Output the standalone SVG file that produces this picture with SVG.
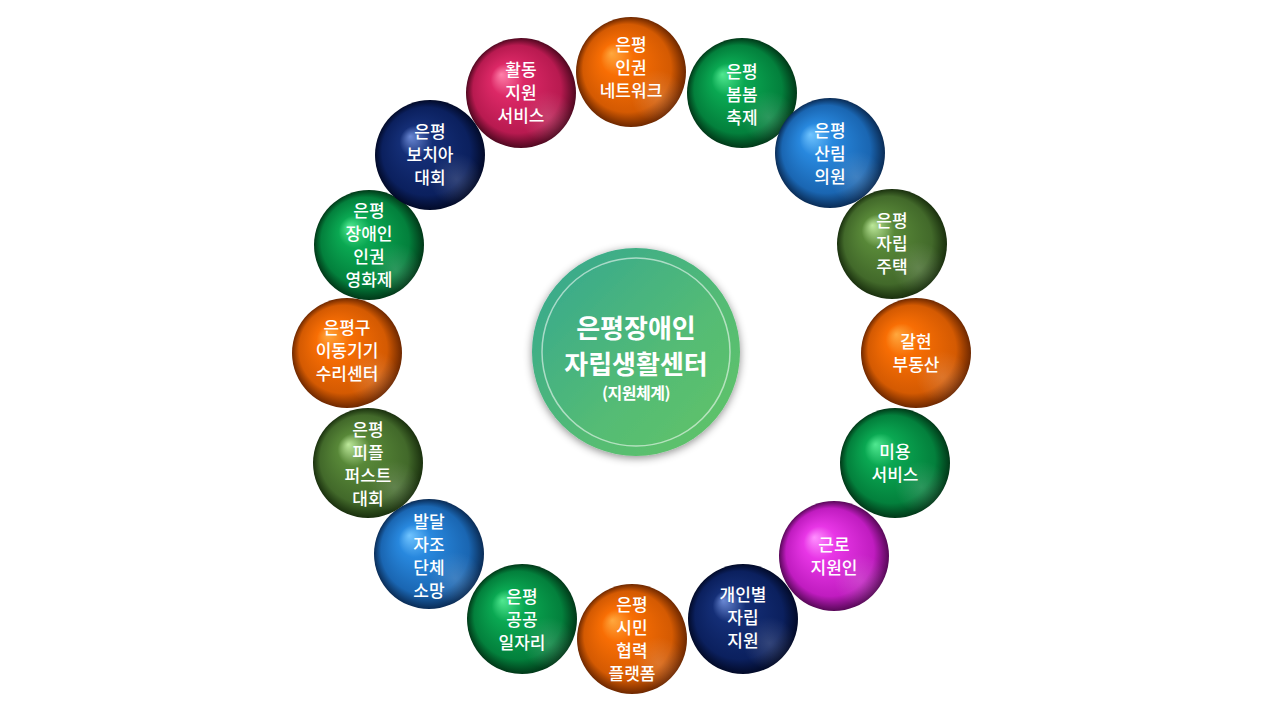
<svg xmlns="http://www.w3.org/2000/svg" width="1280" height="720" viewBox="0 0 1280 720">
<defs>
<radialGradient id="gOrange" cx="0.5" cy="0.5" r="0.5" fx="0.32" fy="0.33"><stop offset="0" stop-color="#ffa83e"/><stop offset="0.3" stop-color="#f86e04"/><stop offset="0.8" stop-color="#d45a02"/><stop offset="1" stop-color="#6e2800"/></radialGradient>
<radialGradient id="gGreen" cx="0.5" cy="0.5" r="0.5" fx="0.32" fy="0.33"><stop offset="0" stop-color="#50e890"/><stop offset="0.3" stop-color="#0aa852"/><stop offset="0.8" stop-color="#03803c"/><stop offset="1" stop-color="#013818"/></radialGradient>
<radialGradient id="gBlue" cx="0.5" cy="0.5" r="0.5" fx="0.32" fy="0.33"><stop offset="0" stop-color="#70c4ff"/><stop offset="0.3" stop-color="#2888de"/><stop offset="0.8" stop-color="#1a66b2"/><stop offset="1" stop-color="#0a2c56"/></radialGradient>
<radialGradient id="gOlive" cx="0.5" cy="0.5" r="0.5" fx="0.32" fy="0.33"><stop offset="0" stop-color="#bce89a"/><stop offset="0.3" stop-color="#588838"/><stop offset="0.8" stop-color="#42692a"/><stop offset="1" stop-color="#1a300e"/></radialGradient>
<radialGradient id="gNavy" cx="0.5" cy="0.5" r="0.5" fx="0.32" fy="0.33"><stop offset="0" stop-color="#6a88d4"/><stop offset="0.3" stop-color="#142e76"/><stop offset="0.8" stop-color="#0b205e"/><stop offset="1" stop-color="#020a28"/></radialGradient>
<radialGradient id="gMagenta" cx="0.5" cy="0.5" r="0.5" fx="0.32" fy="0.33"><stop offset="0" stop-color="#ff90ff"/><stop offset="0.3" stop-color="#e836e6"/><stop offset="0.8" stop-color="#c01cc0"/><stop offset="1" stop-color="#580858"/></radialGradient>
<radialGradient id="gCrimson" cx="0.5" cy="0.5" r="0.5" fx="0.32" fy="0.33"><stop offset="0" stop-color="#ff80aa"/><stop offset="0.3" stop-color="#dc2866"/><stop offset="0.8" stop-color="#b81a50"/><stop offset="1" stop-color="#500820"/></radialGradient>
<radialGradient id="rim" cx="0.74" cy="0.72" r="0.24"><stop offset="0" stop-color="#ffffff" stop-opacity="0.16"/><stop offset="1" stop-color="#ffffff" stop-opacity="0"/></radialGradient>
<linearGradient id="gCenter" x1="0" y1="0" x2="1" y2="1"><stop offset="0" stop-color="#33a691"/><stop offset="0.6" stop-color="#55bc74"/><stop offset="1" stop-color="#62c466"/></linearGradient>
<filter id="shadow" x="-20%" y="-20%" width="140%" height="140%"><feDropShadow dx="0" dy="2" stdDeviation="4" flood-color="#000" flood-opacity="0.45"/></filter>
</defs>
<style>
.t{font-family:"Noto Sans CJK KR","Noto Sans",sans-serif;font-size:17px;font-weight:500;fill:#fff;text-anchor:middle;}
.c{font-family:"Noto Sans CJK KR","Noto Sans",sans-serif;font-weight:bold;fill:#fff;text-anchor:middle;}
.rim{fill:url(#rim);}
</style>
<rect width="1280" height="720" fill="#fff"/>
<g id="connectors"/>
<g id="center">
<circle cx="636" cy="352" r="104" fill="url(#gCenter)" filter="url(#shadow)"/>
<circle cx="636" cy="352" r="94" fill="none" stroke="#ffffff" stroke-opacity="0.55" stroke-width="1.5"/>
<text class="c" x="636" y="338" font-size="26">은평장애인</text>
<text class="c" x="636" y="374" font-size="26">자립생활센터</text>
<text class="c" x="636" y="399" font-size="16" letter-spacing="-0.5">(지원체계)</text>
</g>
<g id="n-hwaldong"><circle cx="521" cy="93" r="55" fill="url(#gCrimson)"/><circle cx="521" cy="93" r="55" class="rim"/><text class="t" x="521" y="76">활동</text><text class="t" x="521" y="99">지원</text><text class="t" x="521" y="122">서비스</text></g>
<g id="n-ingwon"><circle cx="631" cy="72" r="55" fill="url(#gOrange)"/><circle cx="631" cy="72" r="55" class="rim"/><text class="t" x="631" y="51">은평</text><text class="t" x="631" y="74">인권</text><text class="t" x="631" y="97">네트워크</text></g>
<g id="n-bombom"><circle cx="742" cy="93" r="55" fill="url(#gGreen)"/><circle cx="742" cy="93" r="55" class="rim"/><text class="t" x="742" y="78">은평</text><text class="t" x="742" y="101">봄봄</text><text class="t" x="742" y="124">축제</text></g>
<g id="n-sallim"><circle cx="830" cy="153" r="55" fill="url(#gBlue)"/><circle cx="830" cy="153" r="55" class="rim"/><text class="t" x="830" y="137">은평</text><text class="t" x="830" y="160">산림</text><text class="t" x="830" y="183">의원</text></g>
<g id="n-jutaek"><circle cx="892" cy="244" r="55" fill="url(#gOlive)"/><circle cx="892" cy="244" r="55" class="rim"/><text class="t" x="892" y="227">은평</text><text class="t" x="892" y="250">자립</text><text class="t" x="892" y="273">주택</text></g>
<g id="n-galhyeon"><circle cx="916" cy="353" r="55" fill="url(#gOrange)"/><circle cx="916" cy="353" r="55" class="rim"/><text class="t" x="916" y="348">갈현</text><text class="t" x="916" y="371">부동산</text></g>
<g id="n-miyong"><circle cx="895" cy="463" r="55" fill="url(#gGreen)"/><circle cx="895" cy="463" r="55" class="rim"/><text class="t" x="895" y="458">미용</text><text class="t" x="895" y="481">서비스</text></g>
<g id="n-geunro"><circle cx="834" cy="556" r="55" fill="url(#gMagenta)"/><circle cx="834" cy="556" r="55" class="rim"/><text class="t" x="834" y="551">근로</text><text class="t" x="834" y="574">지원인</text></g>
<g id="n-gaeinbyeol"><circle cx="743" cy="619" r="55" fill="url(#gNavy)"/><circle cx="743" cy="619" r="55" class="rim"/><text class="t" x="743" y="601">개인별</text><text class="t" x="743" y="624">자립</text><text class="t" x="743" y="647">지원</text></g>
<g id="n-simin"><circle cx="632" cy="639" r="55" fill="url(#gOrange)"/><circle cx="632" cy="639" r="55" class="rim"/><text class="t" x="632" y="611">은평</text><text class="t" x="632" y="634">시민</text><text class="t" x="632" y="657">협력</text><text class="t" x="632" y="680">플랫폼</text></g>
<g id="n-gonggong"><circle cx="522" cy="619" r="55" fill="url(#gGreen)"/><circle cx="522" cy="619" r="55" class="rim"/><text class="t" x="522" y="603">은평</text><text class="t" x="522" y="626">공공</text><text class="t" x="522" y="649">일자리</text></g>
<g id="n-somang"><circle cx="429" cy="554" r="55" fill="url(#gBlue)"/><circle cx="429" cy="554" r="55" class="rim"/><text class="t" x="429" y="528">발달</text><text class="t" x="429" y="551">자조</text><text class="t" x="429" y="574">단체</text><text class="t" x="429" y="597">소망</text></g>
<g id="n-people"><circle cx="368" cy="463" r="55" fill="url(#gOlive)"/><circle cx="368" cy="463" r="55" class="rim"/><text class="t" x="368" y="436">은평</text><text class="t" x="368" y="459">피플</text><text class="t" x="368" y="482">퍼스트</text><text class="t" x="368" y="505">대회</text></g>
<g id="n-idong"><circle cx="347" cy="353" r="55" fill="url(#gOrange)"/><circle cx="347" cy="353" r="55" class="rim"/><text class="t" x="347" y="334">은평구</text><text class="t" x="347" y="357">이동기기</text><text class="t" x="347" y="380">수리센터</text></g>
<g id="n-yeonghwa"><circle cx="369" cy="245" r="55" fill="url(#gGreen)"/><circle cx="369" cy="245" r="55" class="rim"/><text class="t" x="369" y="217">은평</text><text class="t" x="369" y="240">장애인</text><text class="t" x="369" y="263">인권</text><text class="t" x="369" y="286">영화제</text></g>
<g id="n-bochia"><circle cx="430" cy="155" r="55" fill="url(#gNavy)"/><circle cx="430" cy="155" r="55" class="rim"/><text class="t" x="430" y="138">은평</text><text class="t" x="430" y="161">보치아</text><text class="t" x="430" y="184">대회</text></g>
</svg>
